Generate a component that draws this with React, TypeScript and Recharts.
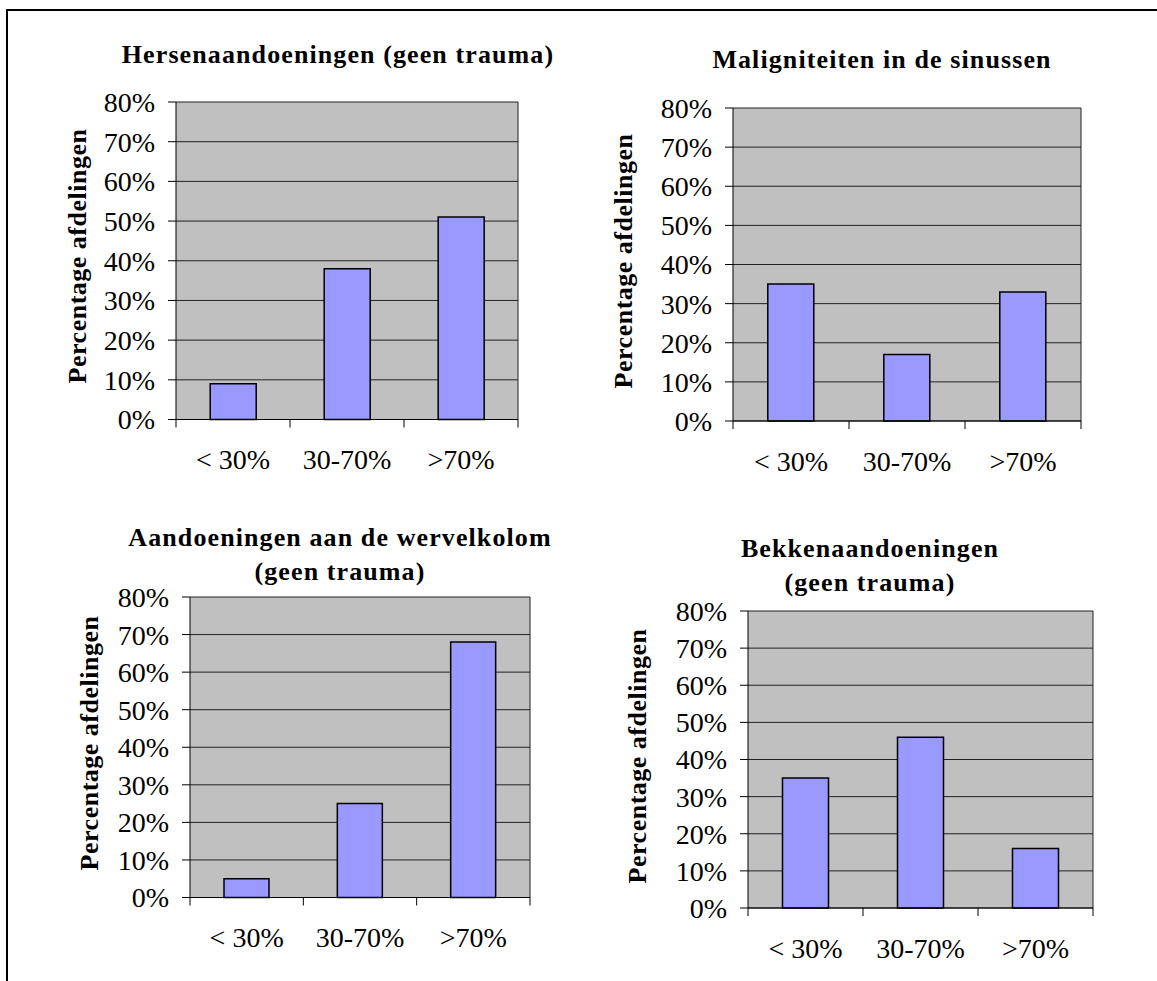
import { Bar, BarChart, CartesianGrid, XAxis, YAxis } from 'recharts';

const categories = ['< 30%', '30-70%', '>70%'];
const hersenValues = [9, 38, 51];
const sinusValues = [35, 17, 33];
const wervelValues = [5, 25, 68];
const bekkenValues = [35, 46, 16];
const yTicks = [0, 10, 20, 30, 40, 50, 60, 70, 80];

const FONT = "'Liberation Serif', 'Times New Roman', serif";
const LABEL_GAP = 30;

interface Plot {
  left: number;
  top: number;
  right: number;
  bottom: number;
}

interface PanelProps {
  values: number[];
  title: string[];
  titleX: number;
  titleY: number;
  axisTitleX: number;
  plot: Plot;
}

// category labels in the middle, tick marks on the band edges (Excel style)
function CategoryTick(props: any) {
  const { x, y, payload, index, visibleTicksCount } = props;
  const half = payload?.offset ?? 0;
  const axisY = y - LABEL_GAP;
  return (
    <g>
      <line x1={x - half} x2={x - half} y1={axisY} y2={axisY + 8} stroke="#000" />
      {index === visibleTicksCount - 1 ? (
        <line x1={x + half} x2={x + half} y1={axisY} y2={axisY + 8} stroke="#000" />
      ) : null}
      <text x={x} y={y} dy="0.71em" textAnchor="middle" fontSize={28} fontFamily={FONT} fill="#000">
        {payload.value}
      </text>
    </g>
  );
}

function Panel({ values, title, titleX, titleY, axisTitleX, plot }: PanelProps) {
  const data = categories.map((name, i) => ({ name, value: values[i] }));
  const width = plot.right - plot.left + 160;
  const height = plot.bottom - plot.top + 90;
  return (
    <>
      <div
        style={{
          position: 'absolute',
          left: titleX - 300,
          top: titleY,
          width: 600,
          textAlign: 'center',
          fontFamily: FONT,
          fontWeight: 'bold',
          fontSize: 26,
          lineHeight: '34px',
          letterSpacing: 1.1,
        }}
      >
        {title.map((line) => (
          <div key={line}>{line}</div>
        ))}
      </div>
      <div
        style={{
          position: 'absolute',
          left: axisTitleX,
          top: (plot.top + plot.bottom) / 2 - 4,
          transform: 'translate(-50%, -50%) rotate(-90deg)',
          whiteSpace: 'nowrap',
          fontFamily: FONT,
          fontWeight: 'bold',
          fontSize: 26,
          letterSpacing: 0.5,
        }}
      >
        Percentage afdelingen
      </div>
      <div style={{ position: 'absolute', left: plot.left - 140, top: plot.top - 20 }}>
        <BarChart
          width={width}
          height={height}
          data={data}
          margin={{ top: 20, right: 20, left: 80, bottom: 30 }}
          barCategoryGap="30%"
        >
          <CartesianGrid
            fill="#c0c0c0"
            fillOpacity={1}
            stroke="#222"
            verticalCoordinatesGenerator={({ offset }: any) => [offset.left + offset.width]}
          />
          <XAxis
            dataKey="name"
            height={40}
            tickLine={false}
            tickSize={0}
            tickMargin={LABEL_GAP}
            axisLine={{ stroke: '#000' }}
            tick={<CategoryTick />}
            interval={0}
          />
          <YAxis
            width={60}
            domain={[0, 80]}
            ticks={yTicks}
            interval={0}
            tickSize={8}
            tickMargin={13}
            tickFormatter={(v) => `${v}%`}
            axisLine={{ stroke: '#000' }}
            tickLine={{ stroke: '#000' }}
            tick={{ fill: '#000', fontSize: 28, fontFamily: FONT }}
          />
          <Bar dataKey="value" fill="#9999ff" stroke="#000" strokeWidth={1.5} isAnimationActive={false} />
        </BarChart>
      </div>
    </>
  );
}

export default function App() {
  return (
    <div
      style={{
        position: 'fixed',
        left: 0,
        top: 0,
        width: 1157,
        height: 981,
        overflow: 'hidden',
        background: '#fff',
      }}
    >
      <div
        style={{
          position: 'absolute',
          left: 6,
          top: 9,
          width: 1200,
          height: 1000,
          borderTop: '2px solid #000',
          borderLeft: '2px solid #000',
        }}
      />
      <Panel
        values={hersenValues}
        title={['Hersenaandoeningen (geen trauma)']}
        titleX={338}
        titleY={38}
        axisTitleX={78}
        plot={{ left: 176, top: 101.5, right: 518, bottom: 419 }}
      />
      <Panel
        values={sinusValues}
        title={['Maligniteiten in de sinussen']}
        titleX={882}
        titleY={43}
        axisTitleX={624}
        plot={{ left: 733, top: 108, right: 1081, bottom: 421 }}
      />
      <Panel
        values={wervelValues}
        title={['Aandoeningen aan de wervelkolom', '(geen trauma)']}
        titleX={340}
        titleY={521}
        axisTitleX={90}
        plot={{ left: 190, top: 597, right: 530, bottom: 897.5 }}
      />
      <Panel
        values={bekkenValues}
        title={['Bekkenaandoeningen', '(geen trauma)']}
        titleX={870}
        titleY={532}
        axisTitleX={638}
        plot={{ left: 748, top: 611, right: 1093, bottom: 908 }}
      />
    </div>
  );
}
